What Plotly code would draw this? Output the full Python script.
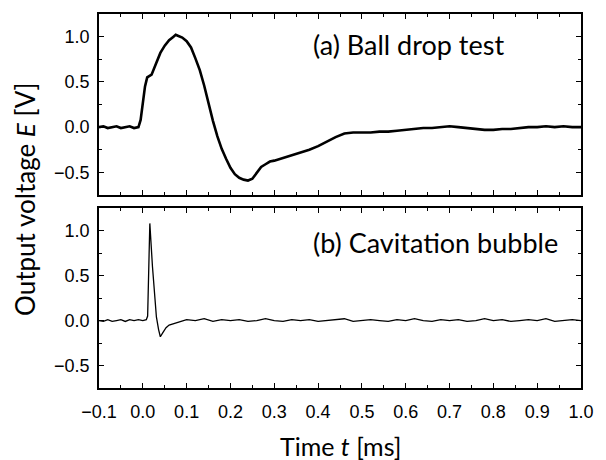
import plotly.graph_objects as go
from plotly.subplots import make_subplots

# (a) Ball drop test
t_a = [-0.10, -0.09, -0.08, -0.07, -0.06, -0.05, -0.04, -0.03, -0.02, -0.01,
       -0.005, 0.0, 0.005, 0.01, 0.015, 0.02, 0.03, 0.04, 0.05, 0.06, 0.07, 0.075,
       0.08, 0.09, 0.10, 0.11, 0.12, 0.13, 0.14, 0.15, 0.16, 0.17, 0.18, 0.19,
       0.20, 0.21, 0.22, 0.23, 0.24, 0.25, 0.26, 0.27, 0.28, 0.29, 0.30, 0.32,
       0.34, 0.36, 0.38, 0.40, 0.42, 0.44, 0.46, 0.48, 0.50, 0.52, 0.54, 0.56,
       0.58, 0.60, 0.62, 0.64, 0.66, 0.68, 0.70, 0.72, 0.74, 0.76, 0.78, 0.80,
       0.82, 0.84, 0.86, 0.88, 0.90, 0.92, 0.94, 0.96, 0.98, 1.00]
v_a = [0.00, 0.01, -0.01, 0.00, 0.01, -0.01, 0.00, 0.01, -0.01, 0.00,
       0.08, 0.25, 0.45, 0.55, 0.57, 0.58, 0.70, 0.82, 0.90, 0.96, 1.00, 1.02,
       1.01, 0.99, 0.95, 0.88, 0.76, 0.63, 0.46, 0.26, 0.07, -0.10, -0.24, -0.35,
       -0.45, -0.52, -0.56, -0.58, -0.59, -0.57, -0.50, -0.44, -0.41, -0.38, -0.37, -0.34,
       -0.31, -0.28, -0.25, -0.21, -0.16, -0.11, -0.07, -0.06, -0.06, -0.06, -0.05, -0.05,
       -0.04, -0.03, -0.02, -0.01, -0.01, 0.00, 0.01, 0.00, -0.01, -0.02, -0.03, -0.03,
       -0.02, -0.02, -0.01, 0.00, 0.00, 0.01, 0.00, 0.01, 0.00, 0.00]

# (b) Cavitation bubble
t_b = [-0.10, -0.09, -0.08, -0.07, -0.06, -0.05, -0.04, -0.03, -0.02, -0.01,
       0.0, 0.008, 0.011, 0.016, 0.022, 0.027, 0.031, 0.036, 0.040, 0.045, 0.053,
       0.060, 0.067, 0.076, 0.086, 0.10, 0.12, 0.14, 0.16, 0.18, 0.20, 0.22, 0.24,
       0.26, 0.28, 0.30, 0.32, 0.34, 0.36, 0.38, 0.40, 0.42, 0.44, 0.46, 0.48,
       0.50, 0.52, 0.54, 0.56, 0.58, 0.60, 0.62, 0.64, 0.66, 0.68, 0.70, 0.72,
       0.74, 0.76, 0.78, 0.80, 0.82, 0.84, 0.86, 0.88, 0.90, 0.92, 0.94, 0.96,
       0.98, 1.00]
v_b = [0.00, -0.01, 0.01, -0.01, 0.00, 0.01, -0.01, 0.01, 0.00, 0.01,
       0.00, 0.01, 0.05, 1.08, 0.60, 0.22, 0.04, -0.10, -0.18, -0.14, -0.08,
       -0.05, -0.04, -0.02, -0.01, 0.01, 0.00, 0.02, -0.01, 0.01, 0.00, 0.01, -0.01,
       0.00, 0.02, 0.00, -0.01, 0.01, 0.00, 0.01, -0.01, 0.00, 0.01, 0.02, -0.01,
       0.00, 0.01, 0.00, -0.01, 0.01, 0.00, 0.02, 0.00, -0.01, 0.01, 0.00, 0.01,
       -0.01, 0.00, 0.02, 0.00, 0.01, -0.01, 0.00, 0.01, 0.00, 0.02, -0.01, 0.00,
       0.01, 0.00]

x_ticks = [-0.1, 0.0, 0.1, 0.2, 0.3, 0.4, 0.5, 0.6, 0.7, 0.8, 0.9, 1.0]
x_ticklabels = ["\u22120.1", "0.0", "0.1", "0.2", "0.3", "0.4", "0.5", "0.6", "0.7", "0.8", "0.9", "1.0"]
y_ticks = [-0.5, 0.0, 0.5, 1.0]
y_ticklabels = ["\u22120.5", "0.0", "0.5", "1.0"]

fig = make_subplots(rows=2, cols=1, shared_xaxes=False, vertical_spacing=0.0)

fig.add_trace(go.Scatter(x=t_a, y=v_a, mode="lines", line=dict(color="black", width=2.6),
                         showlegend=False), row=1, col=1)
fig.add_trace(go.Scatter(x=t_b, y=v_b, mode="lines", line=dict(color="black", width=1.3),
                         showlegend=False), row=2, col=1)

tick_font = dict(family="Liberation Sans, Arial, sans-serif", size=18, color="black")
axis_common = dict(showline=True, linecolor="black", linewidth=1.5, mirror="ticks",
                   ticks="inside", ticklen=5, tickwidth=1.3, tickcolor="black",
                   showgrid=False, zeroline=False, tickfont=tick_font,
                   ticklabeloverflow="allow")
minor_x = dict(dtick=0.05, ticks="inside", ticklen=3, tickcolor="black", tickwidth=1.2)
minor_y = dict(dtick=0.25, ticks="inside", ticklen=3, tickcolor="black", tickwidth=1.2)

fig.update_layout(
    width=606, height=460,
    margin=dict(l=99, r=14, t=14, b=72),
    plot_bgcolor="white", paper_bgcolor="white",
    xaxis=dict(domain=[0, 1], range=[-0.1, 1.0], tickvals=x_ticks, ticktext=x_ticklabels,
               showticklabels=False, minor=minor_x, **axis_common),
    xaxis2=dict(domain=[0, 1], range=[-0.1, 1.0], tickvals=x_ticks, ticktext=x_ticklabels,
                minor=minor_x, ticklabelstandoff=7, **axis_common),
    yaxis=dict(domain=[0.516, 1], range=[-0.75, 1.25], tickvals=y_ticks, ticktext=y_ticklabels,
               minor=minor_y, ticklabelstandoff=4, **axis_common),
    yaxis2=dict(domain=[0, 0.481], range=[-0.75, 1.25], tickvals=y_ticks, ticktext=y_ticklabels,
                minor=minor_y, ticklabelstandoff=4, **axis_common),
)

label_font = dict(family="Lato, Open Sans, sans-serif", size=27, color="black")
fig.add_annotation(text="(a) Ball drop test", xref="x", yref="y", x=0.383, y=0.91,
                   xanchor="left", yanchor="middle", showarrow=False, font=label_font)
fig.add_annotation(text="(b) Cavitation bubble", xref="x2", yref="y2", x=0.383, y=0.87,
                   xanchor="left", yanchor="middle", showarrow=False, font=label_font)

title_font = dict(family="Lato, Open Sans, sans-serif", size=26, color="black")
fig.add_annotation(text="Output voltage <i>E</i> [V]", xref="paper", yref="paper",
                   x=-0.154, y=0.505, xanchor="center", yanchor="middle", textangle=-90,
                   showarrow=False, font=title_font)
fig.add_annotation(text="Time <i>t</i> [ms]", xref="paper", yref="paper",
                   x=0.5, y=-0.155, xanchor="center", yanchor="middle",
                   showarrow=False, font=dict(family="Lato, Open Sans, sans-serif", size=25, color="black"))

fig.write_html("out.html")
